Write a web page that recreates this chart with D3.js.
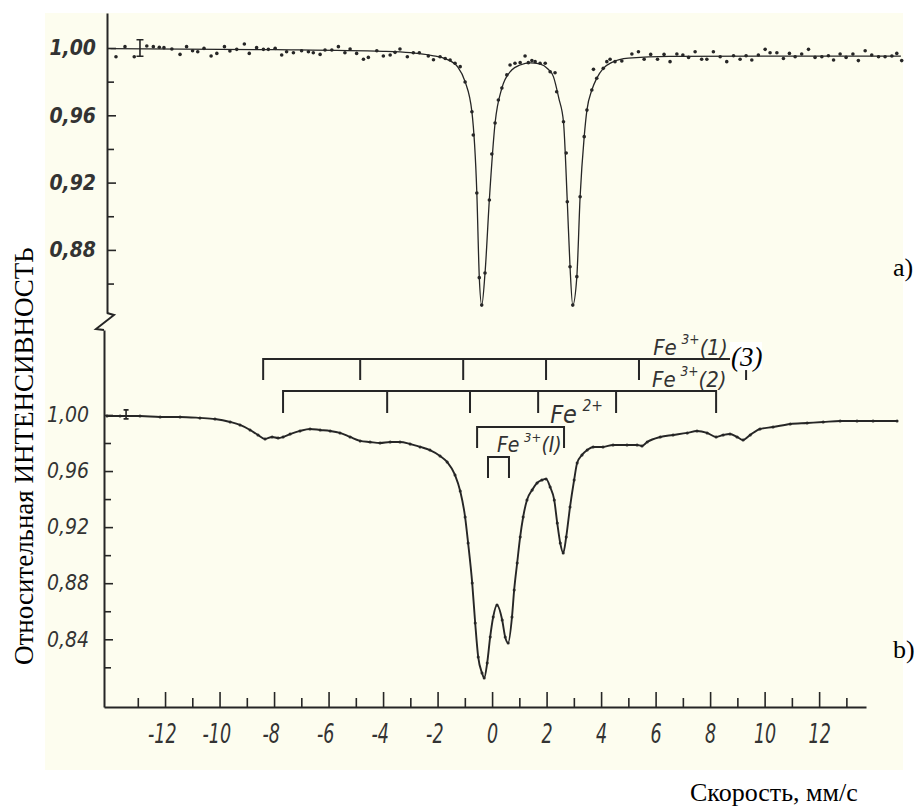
<!DOCTYPE html>
<html>
<head>
<meta charset="utf-8">
<script src="https://cdn.jsdelivr.net/npm/d3@7"></script>
<style>
  html, body { margin: 0; padding: 0; background: #ffffff; }
  svg { display: block; }
  .draft { font-family: "DejaVu Sans Condensed", "DejaVu Sans", sans-serif; font-style: italic; }
  .serif { font-family: "Liberation Serif", "Times New Roman", serif; }
</style>
</head>
<body>
<svg id="chart" width="914" height="810"></svg>
<script>
// ---- Mössbauer spectra: velocity (mm/s) vs relative intensity ----

// axis tick values
const velocityMajor = [-12, -10, -8, -6, -4, -2, 0, 2, 4, 6, 8, 10, 12];
const velocityMinor = [-13, -11, -9, -7, -5, -3, -1, 1, 3, 5, 7, 9, 11, 13];
const topMajor = [1.00, 0.96, 0.92, 0.88];
const topMinor = [0.98, 0.94, 0.90, 0.86];
const bottomMajor = [1.00, 0.96, 0.92, 0.88, 0.84];
const bottomMinor = [0.98, 0.94, 0.90, 0.86, 0.82];

// spectrum a): measured points [velocity, intensity]
const topPoints = [
  [-13.80,0.9948],[-13.47,1.0008],[-13.13,0.9948],[-12.67,1.0012],[-12.43,1.0008],[-12.21,1.0004],
  [-12.04,1.0002],[-11.75,0.9994],[-11.45,0.9962],[-11.21,1.0008],[-10.99,0.9984],[-10.80,0.9978],
  [-10.57,0.9998],[-10.31,0.9952],[-10.10,0.9968],[-9.82,1.0008],[-9.62,0.9982],[-9.37,0.9992],
  [-9.09,1.0024],[-8.91,0.9968],[-8.64,1.0002],[-8.39,0.9992],[-8.21,0.9992],[-7.96,0.9998],
  [-7.72,0.9958],[-7.54,0.9978],[-7.29,0.9972],[-6.99,0.9984],[-6.74,0.9978],[-6.56,0.9972],
  [-6.31,0.9962],[-6.13,0.9988],[-5.88,0.9988],[-5.64,1.0008],[-5.40,0.9972],[-5.21,0.9994],
  [-4.97,0.9968],[-4.72,0.9933],[-4.54,0.9944],[-4.23,0.9984],[-3.99,0.9952],[-3.74,0.9958],
  [-3.56,0.9974],[-3.38,0.9994],[-3.11,0.9948],[-2.89,0.9972],[-2.67,0.9972],[-2.34,0.9952],
  [-2.15,0.9930],[-1.91,0.9948],[-1.72,0.9938],[-1.54,0.9929],[-1.36,0.9909],[-1.17,0.9889],
  [-0.99,0.9798],[-0.74,0.9621],[-0.69,0.9483],[-0.56,0.9138],[-0.47,0.8635],[-0.38,0.8472],
  [-0.26,0.8663],[-0.10,0.9097],[-0.01,0.9370],[0.11,0.9554],[0.23,0.9691],[0.36,0.9762],
  [0.54,0.9840],[0.66,0.9899],[0.84,0.9909],[1.03,0.9913],[1.21,0.9952],[1.33,0.9913],
  [1.46,0.9925],[1.58,0.9919],[1.76,0.9909],[1.95,0.9909],[2.13,0.9859],[2.31,0.9853],
  [2.37,0.9740],[2.62,0.9562],[2.72,0.9376],[2.76,0.9086],[2.86,0.8700],[2.96,0.8472],
  [3.11,0.8641],[3.23,0.9116],[3.38,0.9473],[3.48,0.9631],[3.66,0.9750],[3.72,0.9873],
  [3.84,0.9820],[4.08,0.9879],[4.21,0.9919],[4.33,0.9933],[4.51,0.9919],[4.76,0.9923],
  [5.13,0.9964],[5.37,0.9978],[5.58,0.9933],[5.82,0.9962],[6.07,0.9933],[6.31,0.9962],
  [6.53,0.9919],[6.78,0.9964],[7.00,0.9958],[7.21,0.9944],[7.45,0.9978],[7.69,0.9933],
  [7.88,0.9933],[8.12,0.9978],[8.37,0.9948],[8.61,0.9919],[8.86,0.9954],[9.10,0.9933],
  [9.32,0.9954],[9.53,0.9929],[9.77,0.9958],[10.02,0.9992],[10.20,0.9972],[10.45,0.9972],
  [10.69,0.9938],[10.91,0.9968],[11.12,0.9948],[11.36,0.9964],[11.61,0.9992],[11.85,0.9944],
  [12.10,0.9948],[12.34,0.9954],[12.53,0.9929],[12.77,0.9964],[12.99,0.9944],[13.24,0.9964],
  [13.44,0.9925],[13.69,0.9984],[13.93,0.9958],[14.18,0.9948],[14.42,0.9948],[14.67,0.9952],
  [14.85,0.9968],[15.03,0.9925]
];

// spectrum a): fitted envelope [velocity, intensity]
const topFit = [
  [-14.0,0.9996],[-8.0,0.9990],[-4.0,0.9980],[-3.0,0.9972],[-2.2,0.9955],[-1.7,0.9935],
  [-1.25,0.9885],[-0.99,0.9800],[-0.74,0.9620],[-0.56,0.9140],[-0.47,0.8640],[-0.38,0.8472],
  [-0.26,0.8660],[-0.10,0.9100],[0.11,0.9554],[0.36,0.9762],[0.72,0.9869],[1.03,0.9899],
  [1.40,0.9912],[1.75,0.9905],[2.05,0.9875],[2.25,0.9830],[2.45,0.9700],[2.62,0.9560],
  [2.76,0.9086],[2.86,0.8700],[2.96,0.8472],[3.11,0.8641],[3.23,0.9116],[3.38,0.9473],
  [3.48,0.9631],[3.66,0.9750],[3.84,0.9820],[4.08,0.9879],[4.40,0.9915],[5.00,0.9940],
  [6.50,0.9950],[15.0,0.9952]
];

// spectrum b): measured points [velocity, intensity]
const bottomPoints = [
  [-14.13,0.9993],[-13.65,0.9993],[-12.92,0.9993],[-12.18,0.9986],[-11.45,0.9986],[-10.72,0.9979],
  [-10.17,0.9971],[-9.61,0.9950],[-9.25,0.9929],[-8.88,0.9893],[-8.59,0.9857],[-8.33,0.9829],
  [-8.07,0.9843],[-7.85,0.9836],[-7.67,0.9843],[-7.41,0.9864],[-7.05,0.9886],[-6.68,0.9900],
  [-6.31,0.9893],[-5.94,0.9886],[-5.58,0.9872],[-5.21,0.9843],[-4.84,0.9815],[-4.48,0.9807],
  [-4.11,0.9800],[-3.74,0.9807],[-3.38,0.9807],[-3.01,0.9793],[-2.64,0.9772],[-2.28,0.9750],
  [-1.91,0.9708],[-1.65,0.9665],[-1.36,0.9572],[-1.17,0.9458],[-0.99,0.9272],[-0.88,0.9087],
  [-0.73,0.8802],[-0.62,0.8516],[-0.51,0.8274],[-0.37,0.8160],[-0.29,0.8124],[-0.18,0.8231],
  [-0.07,0.8417],[0.04,0.8559],[0.18,0.8645],[0.37,0.8538],[0.48,0.8417],[0.59,0.8374],
  [0.73,0.8559],[0.81,0.8752],[0.92,0.8944],[1.03,0.9130],[1.14,0.9272],[1.28,0.9394],
  [1.47,0.9465],[1.65,0.9515],[1.83,0.9536],[1.98,0.9544],[2.13,0.9486],[2.28,0.9394],
  [2.39,0.9230],[2.50,0.9087],[2.61,0.9016],[2.72,0.9130],[2.86,0.9344],[3.01,0.9536],
  [3.12,0.9658],[3.30,0.9715],[3.49,0.9750],[3.71,0.9772],[4.07,0.9772],[4.44,0.9786],
  [4.95,0.9786],[5.32,0.9786],[5.50,0.9779],[5.69,0.9807],[6.17,0.9843],[6.64,0.9857],
  [7.16,0.9872],[7.52,0.9886],[7.89,0.9872],[8.22,0.9843],[8.48,0.9857],[8.73,0.9864],
  [8.99,0.9843],[9.21,0.9822],[9.47,0.9857],[9.83,0.9900],[10.31,0.9914],[10.94,0.9936],
  [11.56,0.9943],[12.15,0.9950],[12.77,0.9957],[13.39,0.9957],[13.98,0.9957],[14.86,0.9957]
];

// statistical error bars [velocity, intensity, half-range]
const topErrorBar = [-12.92, 1.000, 0.0049];
const bottomErrorBar = [-13.43, 1.0004, 0.0032];

// line positions of the fitted components (mm/s) and the bracket levels (intensity of spectrum b)
const fe3Sextet1 = [-8.40, -4.84, -1.06, 1.98, 5.39, 9.32];
const fe3Sextet2 = [-7.67, -3.85, -0.81, 1.69, 4.55, 8.22];
const fe2Doublet = [-0.55, 2.64];
const fe3Doublet = [-0.15, 0.62];
const bracketLevels = [1.040, 1.0171, 0.9914, 0.970];

// ---- layout ----
const svg = d3.select("#chart");
const ink = "#262626";

// scanned sheet
svg.append("rect").attr("x", 45).attr("y", 13).attr("width", 858).attr("height", 757)
  .attr("fill", "#fdfdef");

const x = d3.scaleLinear().domain([-14.24, 13.72]).range([104, 866]);
const yTop = d3.scaleLinear().domain([0.8425, 1.0208]).range([313, 13]);
const yBot = d3.scaleLinear().domain([0.7917, 1.0606]).range([707, 330]);

const topAxisX = 107, botAxisX = 104;
const fmt = d => d3.format(".2f")(d).replace(".", ",");

function styleAxis(g) {
  g.select(".domain").attr("stroke", ink).attr("stroke-width", 2);
  g.selectAll(".tick line").attr("stroke", ink).attr("stroke-width", 1.6);
  g.selectAll(".tick text").attr("fill", "#333").attr("class", "draft")
    .style("font-size", "21px").style("font-weight", "bold");
}

// y axis a)
const gTop = svg.append("g").attr("transform", `translate(${topAxisX},0)`);
gTop.call(d3.axisLeft(yTop).tickValues(topMajor).tickSize(-9).tickSizeOuter(0).tickPadding(11).tickFormat(fmt))
  .call(styleAxis);
gTop.append("g").call(d3.axisLeft(yTop).tickValues(topMinor).tickSize(-7).tickSizeOuter(0).tickFormat(""))
  .call(g => g.select(".domain").remove())
  .call(g => g.selectAll(".tick line").attr("stroke", ink).attr("stroke-width", 1.6));

// axis break between the two panels
const yb0 = yTop.range()[0], yb1 = yBot.range()[1];
svg.append("path")
  .attr("d", `M${topAxisX},${yb0} L${topAxisX + 7},${yb0 + 2} L${botAxisX - 8},${yb1 - 1} L${botAxisX},${yb1}`)
  .attr("fill", "none").attr("stroke", ink).attr("stroke-width", 2).attr("stroke-linejoin", "miter");

// y axis b)
const gBot = svg.append("g").attr("transform", `translate(${botAxisX},0)`);
gBot.call(d3.axisLeft(yBot).tickValues(bottomMajor).tickSize(-9).tickSizeOuter(0).tickPadding(15).tickFormat(fmt))
  .call(styleAxis);
gBot.selectAll(".tick text").style("font-weight", "normal");
gBot.append("g").call(d3.axisLeft(yBot).tickValues(bottomMinor).tickSize(-7).tickSizeOuter(0).tickFormat(""))
  .call(g => g.select(".domain").remove())
  .call(g => g.selectAll(".tick line").attr("stroke", ink).attr("stroke-width", 1.6));

// x axis
const gX = svg.append("g").attr("transform", `translate(0,${yBot.range()[0]})`);
gX.call(d3.axisBottom(x).tickValues(velocityMajor).tickSize(-15).tickSizeOuter(0).tickPadding(17)
    .tickFormat(d => (d < 0 ? "-" : "") + Math.abs(d)))
  .call(styleAxis);
gX.selectAll(".tick text")
  .style("font-size", "27px").style("font-weight", "normal")
  .attr("dx", d => d < 0 ? "-0.17em" : 0)
  .attr("transform", "scale(0.72,1)");
gX.append("g").call(d3.axisBottom(x).tickValues(velocityMinor).tickSize(-9).tickSizeOuter(0).tickFormat(""))
  .call(g => g.select(".domain").remove())
  .call(g => g.selectAll(".tick line").attr("stroke", ink).attr("stroke-width", 1.6));

// ---- spectrum a) ----
svg.append("path").datum(topFit)
  .attr("d", d3.line().x(d => x(d[0])).y(d => yTop(d[1])).curve(d3.curveMonotoneX))
  .attr("fill", "none").attr("stroke", ink).attr("stroke-width", 1.3);
svg.append("g").selectAll("circle").data(topPoints).join("circle")
  .attr("cx", d => x(d[0])).attr("cy", d => yTop(d[1])).attr("r", 1.8).attr("fill", ink);

// ---- spectrum b) ----
svg.append("path").datum(bottomPoints)
  .attr("d", d3.line().x(d => x(d[0])).y(d => yBot(d[1])).curve(d3.curveMonotoneX))
  .attr("fill", "none").attr("stroke", ink).attr("stroke-width", 1.9);
svg.append("g").selectAll("circle").data(bottomPoints).join("circle")
  .attr("cx", d => x(d[0])).attr("cy", d => yBot(d[1])).attr("r", 1.5).attr("fill", ink);

// error bars
function errorBar(e, y, cap) {
  const cx = x(e[0]), y0 = y(e[1] + e[2]), y1 = y(e[1] - e[2]);
  svg.append("path")
    .attr("d", `M${cx - cap},${y0} H${cx + cap} M${cx},${y0} V${y1} M${cx - cap},${y1} H${cx + cap}`)
    .attr("fill", "none").attr("stroke", ink).attr("stroke-width", 1.6);
}
errorBar(topErrorBar, yTop, 3.5);
errorBar(bottomErrorBar, yBot, 2.5);

// ---- component brackets over spectrum b) ----
function bracket(lines, level, len) {
  const y0 = yBot(level);
  let d = `M${x(lines[0])},${y0} H${x(lines[lines.length - 1])}`;
  lines.forEach(v => { d += ` M${x(v)},${y0} V${y0 + len}`; });
  svg.append("path").attr("d", d).attr("fill", "none")
    .attr("stroke", ink).attr("stroke-width", 2).attr("stroke-linecap", "square");
}
bracket(fe3Sextet1, bracketLevels[0], 20);
bracket(fe3Sextet2, bracketLevels[1], 21);
bracket(fe2Doublet, bracketLevels[2], 20);
bracket(fe3Doublet, bracketLevels[3], 20);

function feLabel(v, level, size, sup, tail) {
  const t = svg.append("text").attr("class", "draft").attr("fill", "#333")
    .attr("x", x(v)).attr("y", yBot(level)).style("font-size", size + "px");
  t.append("tspan").text("Fe");
  t.append("tspan").attr("dx", size * 0.22).attr("dy", -size * 0.48).style("font-size", (size * 0.62) + "px").text(sup);
  if (tail) t.append("tspan").attr("dy", size * 0.48).text(tail);
}
feLabel(5.91, 1.0428, 22, "3+", "(1)");
feLabel(5.87, 1.0200, 22, "3+", "(2)");
feLabel(2.13, 0.9943, 25, "2+", null);
feLabel(0.18, 0.9736, 21, "3+", "(I)");

// pasted site number over the first sextet label
svg.append("rect").attr("x", x(8.73)).attr("y", yBot(1.052)).attr("width", 32).attr("height", 28).attr("fill", "#ffffff");
svg.append("text").attr("class", "serif").attr("x", x(8.77)).attr("y", yBot(1.0347))
  .style("font-size", "27px").style("font-style", "italic").attr("fill", "#000").text("(3)");

// ---- titles ----
svg.append("text").attr("class", "serif").attr("transform", "translate(33,665) rotate(-90)")
  .style("font-size", "27px").attr("fill", "#000")
  .text("Относительная ИНТЕНСИВНОСТЬ");
svg.append("text").attr("class", "serif").attr("x", 690).attr("y", 801)
  .style("font-size", "26px").attr("fill", "#000").text("Скорость, мм/с");
svg.append("text").attr("class", "serif").attr("x", 893).attr("y", 276)
  .style("font-size", "26px").attr("fill", "#000").text("a)");
svg.append("text").attr("class", "serif").attr("x", 893).attr("y", 658)
  .style("font-size", "26px").attr("fill", "#000").text("b)");
</script>
</body>
</html>
